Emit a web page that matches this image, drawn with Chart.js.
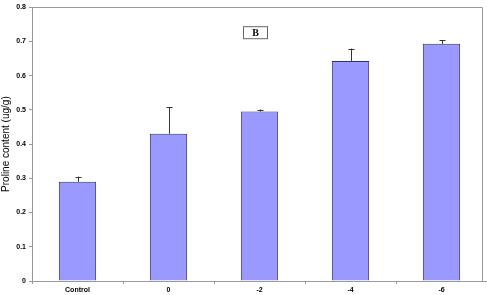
<!DOCTYPE html>
<html lang="en">
<head>
    <meta charset="UTF-8">
    <title>Proline content</title>
    <script src="https://cdn.jsdelivr.net/npm/chart.js"></script>
    <style>
        body { margin: 0; background: #fff; }
        #wrap { width: 487px; height: 295px; position: relative; }
    </style>
</head>
<body>
    <div id="wrap"><canvas id="c"></canvas></div>
    <script>
        // データ
        const categories = ['Control', '0', '-2', '-4', '-6'];
        const proline = [0.29, 0.43, 0.495, 0.643, 0.693];
        const errUp = [0.015, 0.078, 0.006, 0.036, 0.011];
        const yTicks = [0, 0.1, 0.2, 0.3, 0.4, 0.5, 0.6, 0.7, 0.8];
        const panelLabel = 'B';

        // 誤差棒（上側のみ）
        const errorBars = {
            id: 'errorBars',
            afterDatasetsDraw(chart) {
                const ctx = chart.ctx;
                const meta = chart.getDatasetMeta(0);
                const y = chart.scales.y;
                ctx.save();
                ctx.strokeStyle = '#333';
                ctx.lineWidth = 1;
                meta.data.forEach((bar, i) => {
                    const x = Math.round(bar.x) + 0.5;
                    const top = y.getPixelForValue(proline[i] + errUp[i]);
                    const base = y.getPixelForValue(proline[i]);
                    ctx.beginPath();
                    ctx.moveTo(x, base);
                    ctx.lineTo(x, top);
                    ctx.moveTo(x - 3, Math.round(top) + 0.5);
                    ctx.lineTo(x + 3, Math.round(top) + 0.5);
                    ctx.stroke();
                });
                ctx.restore();
            }
        };

        // 枠線と "B" ラベル
        const frame = {
            id: 'frame',
            afterDraw(chart) {
                const ctx = chart.ctx;
                const a = chart.chartArea;
                ctx.save();
                ctx.strokeStyle = '#999';
                ctx.lineWidth = 1;
                ctx.beginPath();
                ctx.moveTo(a.left, Math.round(a.top) + 0.5);
                ctx.lineTo(a.right - 4.5, Math.round(a.top) + 0.5);
                ctx.lineTo(a.right - 4.5, a.bottom);
                ctx.stroke();

                // パネルラベル
                const bx = a.left + 211;
                const by = a.top + 19;
                ctx.strokeStyle = '#666';
                ctx.strokeRect(bx + 0.5, by + 0.5, 24, 12);
                ctx.fillStyle = '#000';
                ctx.font = 'bold 10px "Liberation Serif", serif';
                ctx.textAlign = 'center';
                ctx.textBaseline = 'middle';
                ctx.fillText(panelLabel, bx + 12.5, by + 7);
                ctx.restore();
            }
        };

        new Chart(document.getElementById('c'), {
            type: 'bar',
            data: {
                labels: categories,
                datasets: [{
                    data: proline,
                    backgroundColor: '#9999FF',
                    borderColor: '#333366',
                    borderWidth: 1,
                    categoryPercentage: 1,
                    barPercentage: 0.41
                }]
            },
            options: {
                responsive: true,
                maintainAspectRatio: false,
                animation: false,
                layout: { padding: { top: 4, right: 0, left: 0, bottom: 0 } },
                plugins: {
                    legend: { display: false },
                    tooltip: { enabled: false }
                },
                scales: {
                    x: {
                        grid: {
                            offset: true,
                            drawOnChartArea: false,
                            tickLength: 3,
                            color: '#999'
                        },
                        border: { color: '#999' },
                        ticks: {
                            color: '#000',
                            padding: 2,
                            font: { family: 'Arial, "Liberation Sans"', size: 7, weight: 'bold' }
                        },
                        afterFit(scale) { scale.height = 14; }
                    },
                    y: {
                        min: 0,
                        max: 0.8,
                        afterBuildTicks(scale) {
                            scale.ticks = yTicks.map(v => ({ value: v }));
                        },
                        grid: {
                            drawOnChartArea: false,
                            tickLength: 3,
                            color: '#999'
                        },
                        border: { color: '#999' },
                        ticks: {
                            color: '#000',
                            padding: 3,
                            font: { family: 'Arial, "Liberation Sans"', size: 7, weight: 'bold' },
                            callback: v => (v === 0 ? '0' : v.toFixed(1))
                        },
                        title: {
                            display: true,
                            text: 'Proline content (ug/g)',
                            color: '#000',
                            padding: 0,
                            font: { family: 'Arial, "Liberation Sans"', size: 10 }
                        },
                        afterFit(scale) { scale.width = 32; }
                    }
                }
            },
            plugins: [errorBars, frame]
        });
    </script>
</body>
</html>
